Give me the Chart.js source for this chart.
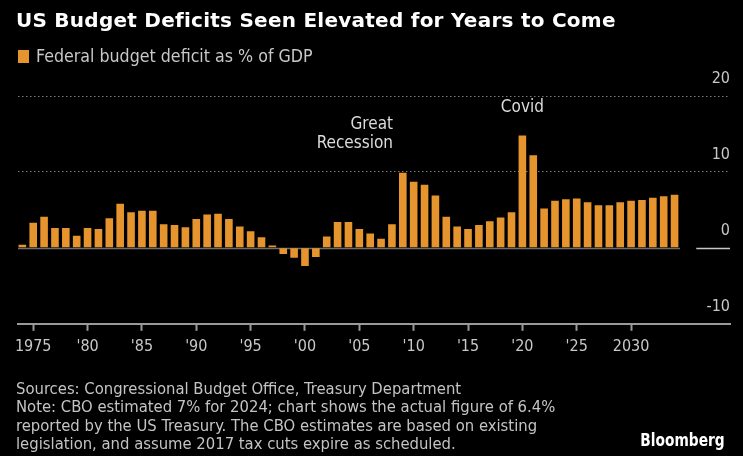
<!DOCTYPE html>
<html>
<head>
<meta charset="utf-8">
<title>US Budget Deficits Seen Elevated for Years to Come</title>
<script src="https://cdn.jsdelivr.net/npm/chart.js@4.4.1/dist/chart.umd.min.js"></script>
<style>
    html, body { margin: 0; padding: 0; background: #000; }
    body {
        width: 743px; height: 456px; position: relative; overflow: hidden;
        font-family: "DejaVu Sans Condensed", sans-serif;
    }
    #chartBox { position: absolute; left: 0; top: 0; width: 743px; height: 456px; }
    #title {
        position: absolute; left: 16px; top: 8px; color: #fff; font-family: "DejaVu Sans", sans-serif;
        font-weight: bold; font-size: 20px; letter-spacing: 0.25px; white-space: nowrap;
    }
    #legend { position: absolute; left: 18px; top: 45px; color: #c8c8c8; font-size: 18px; white-space: nowrap; }
    #legend i { display: inline-block; width: 11px; height: 13px; background: #e6942d; margin-right: 7px; vertical-align: -1px; }
    #legend span { display: inline-block; transform: scaleX(0.98); transform-origin: left center; }
    #footer {
        position: absolute; left: 16px; top: 380px; color: #c4c4c4; font-size: 16px; line-height: 18.3px;
        white-space: nowrap; transform: scaleX(1.03); transform-origin: left top;
    }
    #brand {
        position: absolute; right: 18px; top: 430px; color: #fff; font-weight: bold; font-size: 17px;
        transform: scaleX(0.9); transform-origin: right top;
    }
</style>
</head>
<body>
<div id="chartBox"><canvas id="deficitChart"></canvas></div>
<div id="title">US Budget Deficits Seen Elevated for Years to Come</div>
<div id="legend"><i></i><span>Federal budget deficit as % of GDP</span></div>
<div id="footer">
    Sources: Congressional Budget Office, Treasury Department<br>
    Note: CBO estimated 7% for 2024; chart shows the actual figure of 6.4%<br>
    reported by the US Treasury. The CBO estimates are based on existing<br>
    legislation, and assume 2017 tax cuts expire as scheduled.
</div>
<div id="brand">Bloomberg</div>

<script>
// Chart data: fiscal years and deficit as % of GDP (CBO projections from 2025)
const firstYear = 1974;
const deficit = [
    0.4, 3.3, 4.1, 2.6, 2.6, 1.6, 2.6, 2.5, 3.9, 5.8,   // 1974-1983
    4.7, 4.9, 4.9, 3.1, 3.0, 2.7, 3.8, 4.4, 4.5, 3.8,   // 1984-1993
    2.8, 2.2, 1.4, 0.3, -0.8, -1.3, -2.4, -1.2, 1.5, 3.4, // 1994-2003
    3.4, 2.5, 1.9, 1.2, 3.1, 9.9, 8.7, 8.3, 6.9, 4.1,   // 2004-2013
    2.8, 2.5, 3.0, 3.5, 4.0, 4.7, 14.8, 12.2, 5.2, 6.2, // 2014-2023
    6.4, 6.5, 6.0, 5.6, 5.6, 6.0, 6.2, 6.3, 6.6, 6.8,   // 2024-2033
    7.0                                                 // 2034
];
const years = deficit.map((_, i) => firstYear + i);

const tickYears = [1975, 1980, 1985, 1990, 1995, 2000, 2005, 2010, 2015, 2020, 2025, 2030];
const tickLabels = ['1975', "'80", "'85", "'90", "'95", "'00", "'05", "'10", "'15", "'20", "'25", '2030'];
const yTicks = [-10, 0, 10, 20];

// Event labels, anchored in data units
const notes = [
    { lines: ['Great', 'Recession'], year: 2008.1, value: 16.3, align: 'right' },
    { lines: ['Covid'], year: 2020, value: 18.5, align: 'center' }
];

const FONT = '"DejaVu Sans Condensed", sans-serif';
const BAR = '#e6942d';

// Zero line under the bars + event labels
const extrasPlugin = {
    id: 'extras',
    beforeDatasetsDraw(chart) {
        const { ctx, chartArea, scales: { x, y } } = chart;
        const y0 = Math.round(y.getPixelForValue(0)) + 0.5;
        const lastX = x.getPixelForValue(years[years.length - 1] + 0.5);
        ctx.save();
        ctx.lineWidth = 1.5;
        ctx.strokeStyle = '#6e6e6e';
        ctx.beginPath();
        ctx.moveTo(chartArea.left, y0);
        ctx.lineTo(lastX, y0);
        ctx.stroke();
        ctx.strokeStyle = '#c8c8c8';
        ctx.beginPath();
        ctx.moveTo(x.getPixelForValue(2036), y0);
        ctx.lineTo(chartArea.right, y0);
        ctx.stroke();
        ctx.restore();
    },
    afterDraw(chart) {
        const { ctx, scales: { x, y } } = chart;
        ctx.save();
        ctx.fillStyle = '#dcdcdc';
        ctx.font = '17px ' + FONT;
        ctx.textBaseline = 'middle';
        notes.forEach(n => {
            const cx = x.getPixelForValue(n.year);
            const cy = y.getPixelForValue(n.value);
            ctx.textAlign = n.align;
            n.lines.forEach((line, i) => ctx.fillText(line, cx, cy + i * 19));
        });
        ctx.restore();
    }
};

document.addEventListener('DOMContentLoaded', () => {
    const ctx = document.getElementById('deficitChart').getContext('2d');
    new Chart(ctx, {
        type: 'bar',
        data: {
            datasets: [{
                label: 'Federal budget deficit as % of GDP',
                data: years.map((yr, i) => ({ x: yr, y: deficit[i] })),
                backgroundColor: BAR,
                borderWidth: 0,
                barPercentage: 0.7,
                categoryPercentage: 1
            }]
        },
        options: {
            responsive: true,
            maintainAspectRatio: false,
            animation: false,
            layout: { padding: { left: 18, right: 13, top: 96, bottom: 94 } },
            plugins: {
                legend: { display: false },
                tooltip: { enabled: false }
            },
            scales: {
                x: {
                    type: 'linear',
                    offset: false,
                    min: 1973.6,
                    max: 2039.1,
                    ticks: {
                        stepSize: 5,
                        includeBounds: false,
                        autoSkip: false,
                        maxRotation: 0,
                        padding: 6,
                        color: '#c8c8c8',
                        font: { size: 16, family: FONT },
                        callback: (val) => {
                            const idx = tickYears.indexOf(val);
                            return idx >= 0 ? tickLabels[idx] : null;
                        }
                    },
                    grid: { offset: false, drawOnChartArea: false, drawTicks: true, tickLength: 7, tickColor: '#9a9a9a', tickWidth: 2 },
                    border: { display: true, color: '#9a9a9a', width: 2 }
                },
                y: {
                    position: 'right',
                    min: -10,
                    max: 20,
                    afterBuildTicks: (scale) => { scale.ticks = yTicks.map(v => ({ value: v })); },
                    ticks: {
                        mirror: true,
                        padding: 0,
                        labelOffset: -17,
                        color: '#c8c8c8',
                        font: { size: 16, family: FONT }
                    },
                    grid: {
                        drawTicks: false,
                        lineWidth: 1,
                        color: (c) => (c.tick && c.tick.value > 0) ? '#7a7a7a' : 'rgba(0,0,0,0)'
                    },
                    border: { display: false, dash: [1.5, 2.5] }
                }
            }
        },
        plugins: [extrasPlugin]
    });
});
</script>
</body>
</html>
